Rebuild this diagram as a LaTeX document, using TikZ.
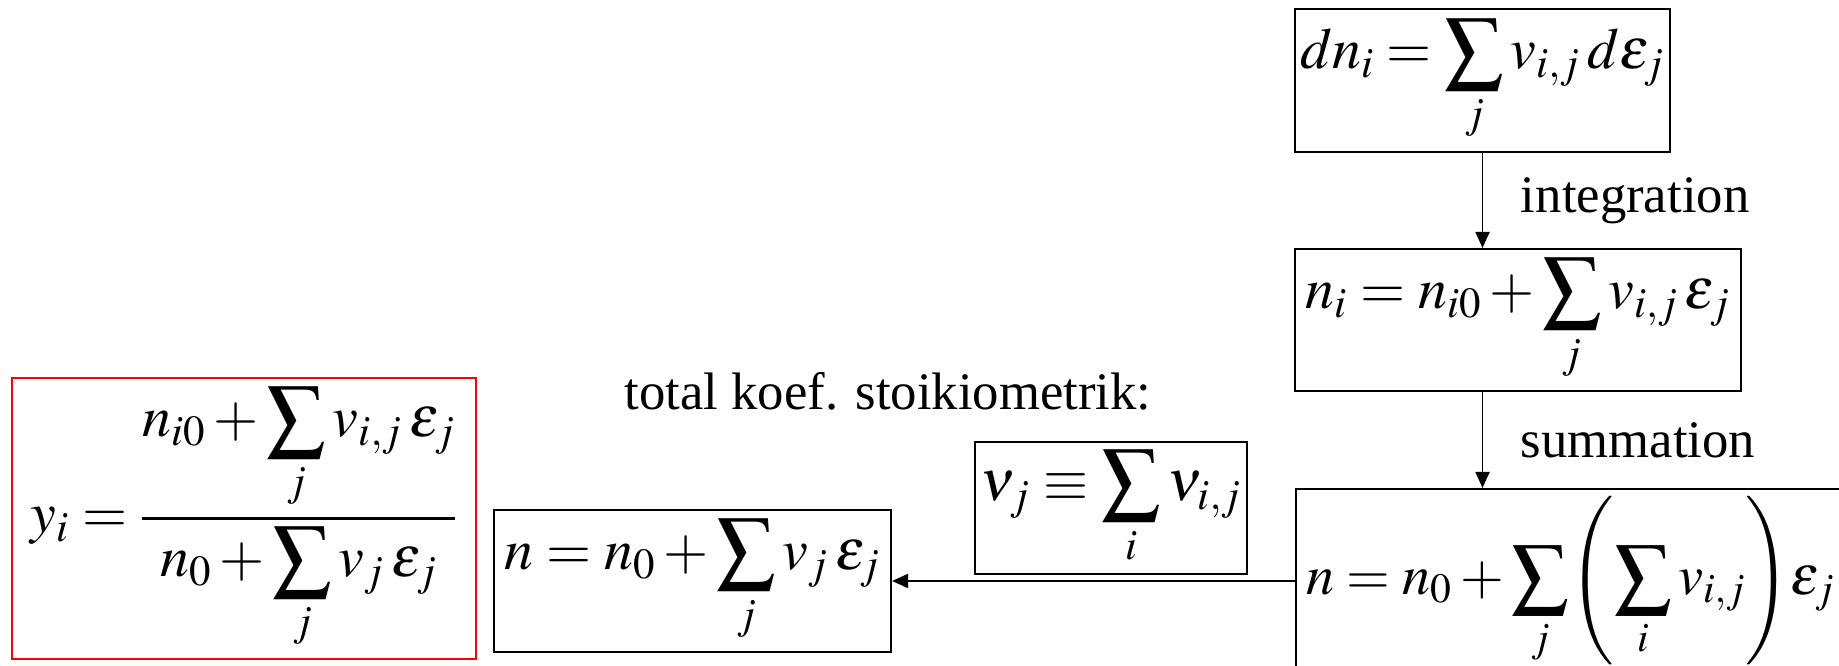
\documentclass[tikz,border=0pt]{standalone}
\usepackage{mathptmx}
\usepackage{fontspec}
\setmainfont{Liberation Serif}
\usepackage{tikz}
\usetikzlibrary{arrows.meta,positioning}
\definecolor{resultdraw}{HTML}{FF0000}
\tikzset{
  >=Triangle,
  equation box/.style={
    rectangle,
    draw=black,
    line width=1.2pt,
    inner sep=2pt,
    font=\fontsize{33}{38}\selectfont
  },
  result box/.style={
    equation box,
    draw=resultdraw
  },
  flow/.style={
    draw=black,
    line width=1.1pt,
    -{Triangle[length=3.2mm,width=2.8mm]}
  },
  step label/.style={
    font=\fontsize{30}{36}\selectfont,
    inner sep=0pt
  },
  note/.style={
    font=\fontsize{30}{36}\selectfont,
    inner sep=0pt,
    align=center
  }
}

\begin{document}
\begin{tikzpicture}[x=1cm,y=1cm]
  \useasboundingbox (0,0) rectangle (36.78,13.32);
  \clip (0,0) rectangle (36.78,13.32);

  \node[equation box,minimum width=7.5cm,minimum height=2.86cm] (A) at (29.65,11.71)
    {$\displaystyle dn_i=\sum_j v_{i,j}\,d\varepsilon_j$};
  \node[equation box,minimum width=8.92cm,minimum height=2.84cm] (B) at (30.36,6.92)
    {$\displaystyle n_i=n_{i0}+\sum_j v_{i,j}\,\varepsilon_j$};
  \node[equation box,anchor=west,minimum width=12cm,minimum height=3.68cm,
        text width=11.6cm,align=left,font=\fontsize{32}{38}\selectfont] (C) at (25.90,1.70)
    {$\displaystyle n=n_0+\sum_j\!\left(\sum_i v_{i,j}\right)\!\varepsilon_j$};

  \node[equation box,minimum width=5.44cm,minimum height=2.64cm] (E) at (22.22,3.16)
    {$\displaystyle \nu_j\equiv\sum_i\nu_{i,j}$};
  \node[equation box,minimum width=7.94cm,minimum height=2.84cm] (D) at (13.85,1.70)
    {$\displaystyle n=n_0+\sum_j v_j\,\varepsilon_j$};
  \node[result box,minimum width=9.28cm,minimum height=5.62cm] (F) at (4.88,2.95)
    {$\displaystyle y_i=\frac{\displaystyle n_{i0}+\sum_j v_{i,j}\,\varepsilon_j}
      {\displaystyle n_0+\sum_j v_j\,\varepsilon_j}$};

  \node[note] (T) at (17.76,5.50) {total koef. stoikiometrik:};

  \draw[flow] (A.south) -- (A.south |- B.north)
    node[step label,midway,right=0.75cm] {integration};
  \draw[flow] (B.south -| A.south) -- (C.north -| A.south)
    node[step label,midway,right=0.75cm] {summation};
  \draw[flow] (C.west) -- (D.east);
\end{tikzpicture}
\end{document}
